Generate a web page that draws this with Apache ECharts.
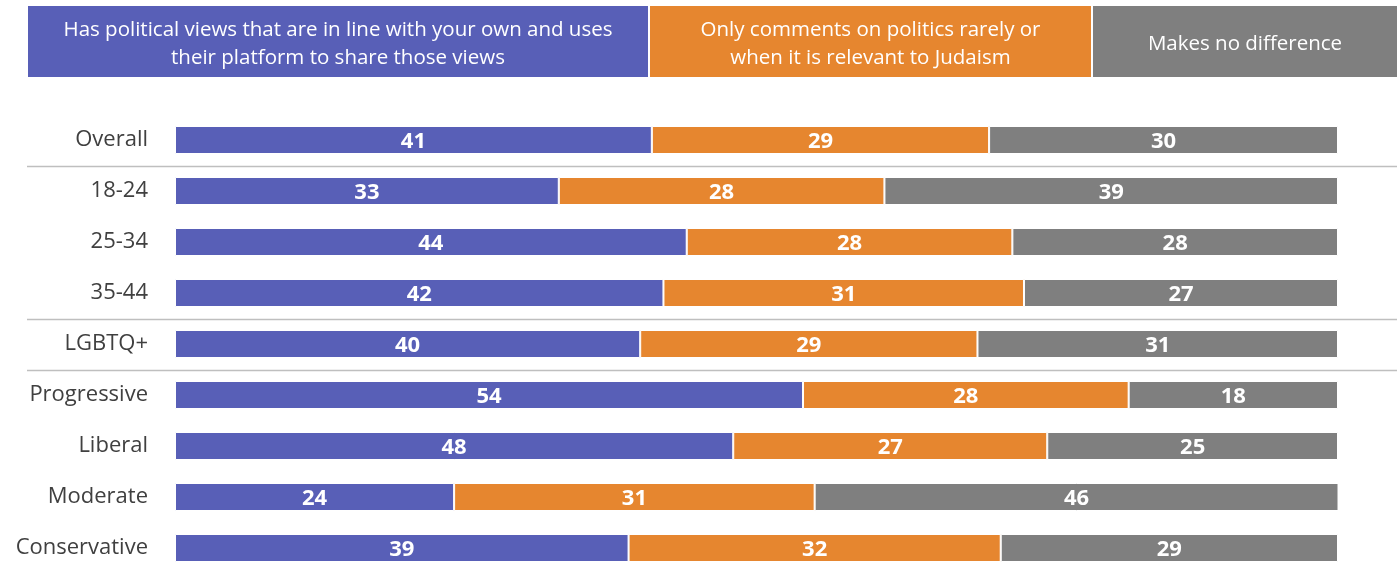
<!DOCTYPE html>
<html>
<head>
<meta charset="utf-8">
<script src="https://cdn.jsdelivr.net/npm/echarts@6/dist/echarts.min.js"></script>
<style>html,body{margin:0;padding:0;background:#fff}#c{width:1400px;height:562px}</style>
</head>
<body>
<div id="c"></div>
<script>
const categories = ['Overall','18-24','25-34','35-44','LGBTQ+','Progressive','Liberal','Moderate','Conservative'];
const alignedViews = [41,33,44,42,40,54,48,24,39];
const rarelyComments = [29,28,28,31,29,28,27,31,32];
const noDifference = [30,39,28,27,31,18,25,46,29];
const seriesNames = [
  'Has political views that are in line with your own and uses\ntheir platform to share those views',
  'Only comments on politics rarely or\nwhen it is relevant to Judaism',
  'Makes no difference'
];
const groupBreaksAfter = [0, 3, 4];

const colors = ['#585fb7', '#e6862f', '#7f7f7f'];
const FONT = '"Open Sans", "Noto Sans", sans-serif';

const chart = echarts.init(document.getElementById('c'));

function mkSeries(name, data, color) {
  return {
    name: name, type: 'bar', stack: 'total', data: data,
    barWidth: 28,
    itemStyle: { color: color, borderColor: '#fff', borderWidth: 1 },
    label: { show: true, position: 'inside', color: '#fff', fontWeight: 'bold', fontSize: 22, fontFamily: FONT, offset: [0, 1.5] },
    emphasis: { disabled: true }
  };
}

chart.setOption({
  animation: false,
  grid: { left: 175, width: 1163, top: 114.5, height: 459, outerBoundsMode: 'none', containLabel: false },
  xAxis: { type: 'value', min: 0, max: 100, show: false },
  yAxis: {
    type: 'category', data: categories, inverse: true,
    axisLine: { show: false }, axisTick: { show: false }, splitLine: { show: false },
    axisLabel: { fontSize: 22, color: '#404040', margin: 27, fontFamily: FONT }
  },
  series: [
    mkSeries(seriesNames[0], alignedViews, colors[0]),
    mkSeries(seriesNames[1], rarelyComments, colors[1]),
    mkSeries(seriesNames[2], noDifference, colors[2])
  ]
});

// header boxes (legend)
const headerBoxes = [[28, 648], [650, 1091], [1093, 1397]];
const graphics = [];
headerBoxes.forEach(function (b, i) {
  graphics.push({
    type: 'rect', shape: { x: b[0], y: 6, width: b[1] - b[0], height: 71 },
    style: { fill: colors[i] }, silent: true
  });
  graphics.push({
    type: 'text', x: (b[0] + b[1]) / 2, y: 44.5,
    style: { text: seriesNames[i], fill: '#fff', fontSize: 20.5, fontFamily: FONT,
      textAlign: 'center', textVerticalAlign: 'middle', lineHeight: 28 },
    silent: true
  });
});
// separator lines between groups
groupBreaksAfter.forEach(function (idx) {
  const y1 = chart.convertToPixel({ yAxisIndex: 0 }, categories[idx]);
  const y2 = chart.convertToPixel({ yAxisIndex: 0 }, categories[idx + 1]);
  const y = Math.round((y1 + y2) / 2) + 0.5;
  graphics.push({
    type: 'line', shape: { x1: 27, y1: y, x2: 1397, y2: y },
    style: { stroke: '#bfbfbf', lineWidth: 1.5 }, silent: true
  });
});
chart.setOption({ graphic: graphics });
</script>
</body>
</html>
